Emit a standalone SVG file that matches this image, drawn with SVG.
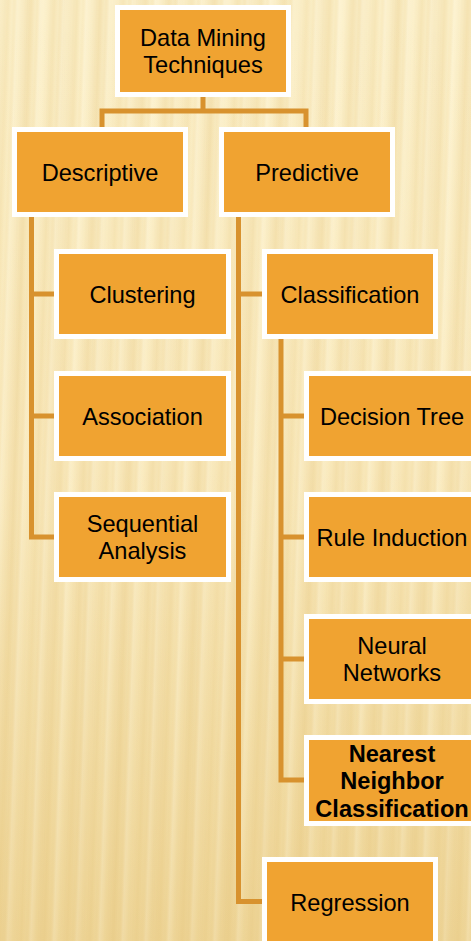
<svg xmlns="http://www.w3.org/2000/svg" width="471" height="941" viewBox="0 0 471 941">
  <defs>
    <!-- parchment base tone, lighter at the top -->
    <linearGradient id="bgTone" x1="0" y1="0" x2="0" y2="1">
      <stop offset="0" stop-color="#FCF1CC"/>
      <stop offset="0.5" stop-color="#FAEBC0"/>
      <stop offset="1" stop-color="#F2DDA5"/>
    </linearGradient>
    <!-- one soft vertical grain streak -->
    <linearGradient id="streak" x1="0" y1="0" x2="1" y2="0">
      <stop offset="0" stop-color="#E2BE6E" stop-opacity="0"/>
      <stop offset="0.35" stop-color="#E2BE6E" stop-opacity="0.2"/>
      <stop offset="0.55" stop-color="#E2BE6E" stop-opacity="0.04"/>
      <stop offset="0.75" stop-color="#FFF8DE" stop-opacity="0.4"/>
      <stop offset="1" stop-color="#FFF8DE" stop-opacity="0"/>
    </linearGradient>
    <linearGradient id="streak2" x1="0" y1="0" x2="1" y2="0">
      <stop offset="0" stop-color="#D9B060" stop-opacity="0"/>
      <stop offset="0.5" stop-color="#D9B060" stop-opacity="0.1"/>
      <stop offset="1" stop-color="#D9B060" stop-opacity="0"/>
    </linearGradient>
    <linearGradient id="shade" x1="0" y1="0" x2="0" y2="1">
      <stop offset="0" stop-color="#E8C880" stop-opacity="0"/>
      <stop offset="0.55" stop-color="#E8C880" stop-opacity="0.04"/>
      <stop offset="1" stop-color="#E2BE70" stop-opacity="0.25"/>
    </linearGradient>
    <pattern id="grain" width="23" height="941" patternUnits="userSpaceOnUse" patternTransform="skewX(-2)">
      <rect width="23" height="941" fill="url(#streak)"/>
    </pattern>
    <pattern id="grain2" width="37" height="941" patternUnits="userSpaceOnUse" patternTransform="translate(9 0) skewX(-1.5)">
      <rect width="37" height="941" fill="url(#streak2)"/>
    </pattern>
  </defs>
  <style>
    .box { fill: #F0A331; stroke: #FFFFFF; stroke-width: 5; }
    .lbl { font-family: "Liberation Sans", Arial, sans-serif; font-size: 23.6px; fill: #000000; text-anchor: middle; }
    .bold { font-weight: bold; }
    .wire { fill: none; stroke: #D8922E; stroke-width: 5; stroke-linejoin: miter; stroke-linecap: butt; }
  </style>

  <!-- background -->
  <rect width="471" height="941" fill="url(#bgTone)"/>
  <rect width="471" height="941" fill="url(#grain)"/>
  <rect width="471" height="941" fill="url(#grain2)"/>
  <rect width="471" height="941" fill="url(#shade)"/>

  <!-- connectors -->
  <g id="connectors">
    <path class="wire" d="M203 97 V111 M102 127 V111 H306 V127"/>
    <path class="wire" d="M31.5 217 V537 H55 M31.5 294 H55 M31.5 416 H55"/>
    <path class="wire" d="M238.5 217 V901.5 H263 M238.5 294 H263"/>
    <path class="wire" d="M281 339 V780 H305 M281 416 H305 M281 537 H305 M281 659 H305"/>
  </g>

  <!-- nodes -->
  <g id="node-root">
    <rect class="box" x="117.5" y="7.5" width="171" height="87"/>
    <text class="lbl" x="203" y="46">Data Mining</text>
    <text class="lbl" x="203" y="73.3">Techniques</text>
  </g>
  <g id="node-descriptive">
    <rect class="box" x="14.5" y="129.5" width="171" height="85"/>
    <text class="lbl" x="100" y="181">Descriptive</text>
  </g>
  <g id="node-predictive">
    <rect class="box" x="221.5" y="129.5" width="171" height="85"/>
    <text class="lbl" x="307" y="181">Predictive</text>
  </g>
  <g id="node-clustering">
    <rect class="box" x="56.5" y="251.5" width="172" height="85"/>
    <text class="lbl" x="142.5" y="303">Clustering</text>
  </g>
  <g id="node-association">
    <rect class="box" x="56.5" y="373.5" width="172" height="85"/>
    <text class="lbl" x="142.5" y="425">Association</text>
  </g>
  <g id="node-sequential">
    <rect class="box" x="56.5" y="494.5" width="172" height="85"/>
    <text class="lbl" x="142.5" y="532">Sequential</text>
    <text class="lbl" x="142.5" y="559.3">Analysis</text>
  </g>
  <g id="node-classification">
    <rect class="box" x="264.5" y="251.5" width="171" height="85"/>
    <text class="lbl" x="350" y="303">Classification</text>
  </g>
  <g id="node-decision-tree">
    <rect class="box" x="306.5" y="373.5" width="171" height="85"/>
    <text class="lbl" x="392" y="425">Decision Tree</text>
  </g>
  <g id="node-rule-induction">
    <rect class="box" x="306.5" y="494.5" width="171" height="85"/>
    <text class="lbl" x="392" y="546">Rule Induction</text>
  </g>
  <g id="node-neural-networks">
    <rect class="box" x="306.5" y="616.5" width="171" height="85"/>
    <text class="lbl" x="392" y="654">Neural</text>
    <text class="lbl" x="392" y="681.3">Networks</text>
  </g>
  <g id="node-nearest-neighbor">
    <rect class="box" x="306.5" y="737.5" width="171" height="86"/>
    <text class="lbl bold" x="392" y="761.7">Nearest</text>
    <text class="lbl bold" x="392" y="789">Neighbor</text>
    <text class="lbl bold" x="392" y="816.5">Classification</text>
  </g>
  <g id="node-regression">
    <rect class="box" x="264.5" y="859.5" width="171" height="85"/>
    <text class="lbl" x="350" y="911">Regression</text>
  </g>
</svg>
